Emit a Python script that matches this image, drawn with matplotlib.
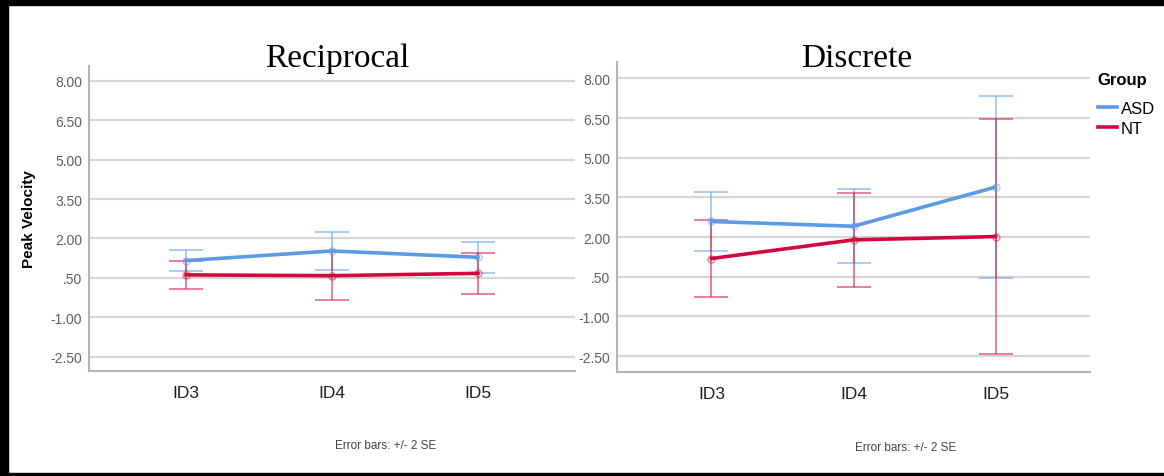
import matplotlib
matplotlib.use("Agg")
import matplotlib.pyplot as plt
from matplotlib.patches import Rectangle
from matplotlib.lines import Line2D

plt.rcParams['font.family'] = ['Liberation Sans', 'DejaVu Sans']

# peak velocity means and 2*SE half widths per group / condition
levels = ["ID3", "ID4", "ID5"]
groups = ["ASD", "NT"]

recip_asd = [1.16, 1.525, 1.285]
recip_asd_err = [0.41, 0.715, 0.595]
recip_nt = [0.615, 0.585, 0.675]
recip_nt_err = [0.525, 0.915, 0.785]

discr_asd = [2.59, 2.41, 3.89]
discr_asd_err = [1.13, 1.39, 3.44]
discr_nt = [1.19, 1.895, 2.02]
discr_nt_err = [1.45, 1.785, 4.44]

yticks = [-2.5, -1.0, 0.5, 2.0, 3.5, 5.0, 6.5, 8.0]
ytick_labels = ["-2.50", "-1.00", ".50", "2.00", "3.50", "5.00", "6.50", "8.00"]

col_asd = "#5b9ae4"
col_nt = "#d3073d"

W, H = 1164, 477
fig = plt.figure(figsize=(W / 100, H / 100), dpi=100)


def px_axes(x0, x1, top, bottom):
    return fig.add_axes([x0 / W, 1 - bottom / H, (x1 - x0) / W, (bottom - top) / H])


def draw_panel(ax, asd, asd_err, nt, nt_err, ylim):
    x = range(len(levels))
    for ys, es, c in [(asd, asd_err, col_asd), (nt, nt_err, col_nt)]:
        ax.errorbar(x, ys, yerr=es, fmt="none", ecolor=c, elinewidth=1.1,
                    capsize=12, capthick=1.1, alpha=0.65, zorder=3)
        ax.plot(x, ys, color=c, lw=2.6, zorder=4)
        ax.plot(x, ys, "o", ms=5, mfc="none", mec=c, mew=1.0,
                alpha=0.5, zorder=5)
    ax.set_xlim(-0.665, 2.665)
    ax.set_ylim(*ylim)
    ax.set_yticks(yticks)
    ax.set_yticklabels(ytick_labels)
    ax.set_xticks(list(x))
    ax.set_xticklabels(levels)
    ax.grid(axis="y", color="#d6d6d6", lw=1.6, zorder=0)
    ax.set_axisbelow(True)
    for s in ["top", "right"]:
        ax.spines[s].set_visible(False)
    for s in ["left", "bottom"]:
        ax.spines[s].set_color("#b4b4b4")
        ax.spines[s].set_linewidth(1.5)
    ax.tick_params(axis="y", length=0, pad=5, labelsize=10, labelcolor="#5f5f5f")
    ax.tick_params(axis="x", length=0, pad=10, labelsize=12.5, labelcolor="#1e1e1e")


ax1 = px_axes(89, 575, 67, 372)
draw_panel(ax1, recip_asd, recip_asd_err, recip_nt, recip_nt_err, (-3.04, 8.56))
ax1.set_ylabel("Peak Velocity", fontsize=11, fontweight="bold", labelpad=10)

ax2 = px_axes(617, 1090, 63, 373)
draw_panel(ax2, discr_asd, discr_asd_err, discr_nt, discr_nt_err, (-3.10, 8.62))

# panel titles
fig.text(337 / W, 1 - 67 / H, "Reciprocal", family="Liberation Serif",
         fontsize=24, ha="center", va="baseline")
fig.text(857 / W, 1 - 67 / H, "Discrete", family="Liberation Serif",
         fontsize=24, ha="center", va="baseline")

# footnotes
fig.text(386 / W, 1 - 446 / H, "Error bars: +/- 2 SE", fontsize=8.5,
         color="#444444", ha="center", va="center")
fig.text(906 / W, 1 - 448 / H, "Error bars: +/- 2 SE", fontsize=8.5,
         color="#444444", ha="center", va="center")

# legend
handles = [Line2D([], [], color=col_asd, lw=2.6), Line2D([], [], color=col_nt, lw=2.6)]
leg = fig.legend(handles, groups, title="Group", loc="upper left",
                 bbox_to_anchor=(1086 / W, 1 - 61 / H), frameon=False,
                 fontsize=12, title_fontproperties={"weight": "bold", "size": 12},
                 handlelength=1.15, handletextpad=0.25, labelspacing=0.3,
                 alignment="left", borderpad=0.2)
leg._legend_box.sep = 10

# black frame on top, left and bottom
fig.patches.append(Rectangle((0, 1 - 6 / H), 1, 6 / H, transform=fig.transFigure,
                             color="black", zorder=10))
fig.patches.append(Rectangle((0, 0), 8 / W, 1, transform=fig.transFigure,
                             color="black", zorder=10))
fig.patches.append(Rectangle((0, 0), 1, 3 / H, transform=fig.transFigure,
                             color="black", zorder=10))

fig.savefig("out.png", dpi=100)
